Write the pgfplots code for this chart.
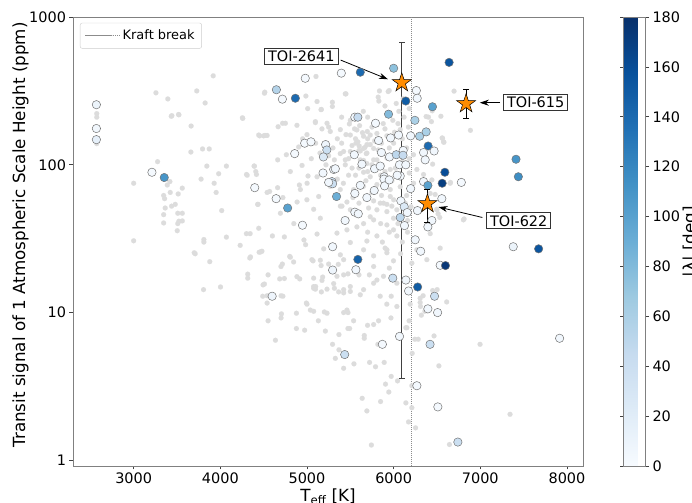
\documentclass[border=0pt]{standalone}
\usepackage{fontspec}
\setmainfont{DejaVu Sans}
\usepackage{pgfplots}
\usepackage{pgfplotstable}
\pgfplotsset{compat=1.18}
\usetikzlibrary{arrows.meta}

\pgfplotsset{/pgf/number format/assume math mode=true, /pgf/number format/1000 sep={}}

% matplotlib Blues
\pgfplotsset{colormap={blues}{rgb255=(247,251,255) rgb255=(222,235,247) rgb255=(198,219,239)
  rgb255=(158,202,225) rgb255=(107,174,214) rgb255=(66,146,198) rgb255=(33,113,181)
  rgb255=(8,81,156) rgb255=(8,48,107)}}

\definecolor{starorange}{RGB}{255,140,0}
\definecolor{bggray}{RGB}{220,220,220}

% filled five-pointed star
\pgfdeclareplotmark{fstar}{%
  \pgfpathmoveto{\pgfpointpolar{90}{\pgfplotmarksize}}%
  \pgfpathlineto{\pgfpointpolar{126}{0.382\pgfplotmarksize}}%
  \pgfpathlineto{\pgfpointpolar{162}{\pgfplotmarksize}}%
  \pgfpathlineto{\pgfpointpolar{198}{0.382\pgfplotmarksize}}%
  \pgfpathlineto{\pgfpointpolar{234}{\pgfplotmarksize}}%
  \pgfpathlineto{\pgfpointpolar{270}{0.382\pgfplotmarksize}}%
  \pgfpathlineto{\pgfpointpolar{306}{\pgfplotmarksize}}%
  \pgfpathlineto{\pgfpointpolar{342}{0.382\pgfplotmarksize}}%
  \pgfpathlineto{\pgfpointpolar{18}{\pgfplotmarksize}}%
  \pgfpathlineto{\pgfpointpolar{54}{0.382\pgfplotmarksize}}%
  \pgfpathclose
  \pgfusepathqfillstroke}

% planets without a measured obliquity
\pgfplotstableread{
T h
3918 400
3257 307
3394 279
3728 316
3825 262
3434 213
3522 218
4255 208
3663 183
4443 159
2574 222
2574 210
2574 139
3660 122
3795 128
3872 128
3276 105
3844 98
4070 98
4393 98
4409 90
4310 85
3981 87
3778 80
3418 77
3000 75
3388 73
3561 69.5
3929 75
3952 65
3346 62
3357 59
3422 65
3514 63.5
3480 54
3438 52.5
3364 51
4435 54
4016 49
3509 47
3561 47
3346 46
3522 41.5
3561 41.7
3509 40
3346 40.4
3503 35.8
4443 37.2
3000 30.6
3810 31.2
4070 32.4
4301 34.2
4344 34.2
3810 30
4229 28.5
3699 25.4
3710 25
3878 22.1
4340 23.4
4448 25.6
4480 26
4316 18.2
4316 17.1
3806 14.3
4002 14.9
4493 15.4
4489 12.9
4348 23.8
4463 25.7
4800 24
4846 22
4716 21.3
4551 18
4685 16.9
4739 17
4509 15.6
4916 16.9
5077 17.1
5181 17.4
5173 16.5
5070 22.4
5154 22.6
5163 20.8
5250 21.3
5277 19.2
5361 21.2
5423 18
5473 18.3
4993 11.6
5000 11.4
5077 10.2
5200 10.1
5423 10
5473 10
5500 13.9
5077 15
5100 15
5097 14.4
5166 13.8
5231 14.4
5316 14.6
5365 13.8
5423 14.3
4878 9.9
4705 9.8
4701 9.2
4551 8.8
5131 8.8
4973 7.6
4878 7.8
5212 7.5
5369 7.1
5473 7.8
4636 6.5
5295 6.1
5327 4.9
5423 4.2
4540 11.6
4540 13
4701 13
5492 7.8
5538 8.8
5699 8.2
5769 8.3
5826 8.8
5969 9.2
6141 7.9
6179 8.8
6245 6.6
6283 6.6
5661 7
5661 6.7
5369 5.6
5542 4.5
5722 4.6
5791 4.3
5891 4.6
5818 6.1
5972 3.7
5906 3.28
6045 3.45
5944 2.9
6214 5.3
5637 2.63
5691 2.16
5849 2.5
6141 2.45
6210 2.27
6172 1.82
6253 1.66
5743 1.27
6997 6.1
7343 2.05
6644 1.28
6210 3.2
6522 4.36
6466 6.95
6612 11.8
6306 12.5
6306 11.7
6153 7.9
6191 11.4
5972 12.9
5921 11.4
6450 14.1
6502 14.3
6340 13
6310 11
6360 10.2
6320 9.6
6697 315
6886 171
6564 151
6580 142
6450 101
6656 76
6813 43
6532 44
6513 46.6
6479 63
6497 50
6375 212
6436 196
6445 232
6545 213
6402 210
6576 143
6560 152
5104 396
4513 310
4259 206
4751 191
5008 240
5162 236
5097 196
5442 302
5829 270
5937 313
4500 157
4454 157
4390 98
4302 86
4417 86
4912 73
4569 66
4431 54
5173 175
5269 168
5385 173
5549 175
5607 184
5696 168
5807 163
5922 157
6010 166
6076 173
5587 143
5668 131
5730 137
5822 126
5684 119
5615 108
5691 102
5807 108
5871 99
5922 111
5730 83
5653 89
5442 100
5346 93
5219 100
5116 83
5012 84
4943 99
4808 90
4762 117
4662 108
4904 132
5423 123
5538 68
5653 71.5
5807 73.5
5961 68
6076 71
5384 68
5269 71.5
5135 61
4999 58
4924 68
4722 60
5461 56
5769 57
5922 54
4509 305
5450 302
4987 292
5116 268
5293 265
5293 248
5166 237
5822 287
5836 316
5949 318
4719 191
4516 158
4540 158
4884 185
5097 193
5231 191
5489 189
5575 172
5500 159
5653 156
5730 159
4661 70
5001 75
4540 65
4693 47
4886 56
5077 50
4848 40
5154 43.5
4601 33
4739 32.5
4965 31
4984 28.8
5116 34
5193 27
5385 24.6
5057 22.8
4808 23.7
4700 20.5
4884 17.5
4722 12.9
5077 14.6
5308 15.7
5423 13.6
5615 13.2
5807 16.6
5769 20.5
5922 25.4
5902 27.3
5998 22.4
5807 33
5691 30.5
5998 36.3
5922 39.2
5769 42.4
5653 40
5461 36.3
5346 34.5
5404 52.5
5500 49.6
5711 51
5807 49.6
5922 48.2
5979 52.5
5883 55
5998 43.5
5845 12.9
6037 11
5461 10.4
5039 10.4
5231 9.9
5316 108
5500 123
5691 120
5769 108
5961 93
6229 117
6268 93
6345 86
6441 79
6652 75
6805 42.4
6422 64
6499 49.6
6422 34.2
6268 26.6
6210 21.6
6383 22.8
6537 27.3
6037 33
5922 26.6
5769 24.2
5653 26.6
5500 29.8
5423 22.8
5883 17.6
6037 15.8
5769 15.8
5653 14.3
5500 15
5346 17.6
6134 55
6037 49.6
5961 61
5845 55
5730 44.5
5576 38
5461 42.4
5385 52.5
5350 150
5400 140
5450 160
5520 135
5560 150
5600 125
5640 165
5700 150
5750 180
5780 145
5860 140
5900 175
5950 130
6000 140
6050 190
6100 150
5480 110
5520 95
5560 85
5600 95
5700 90
5750 100
5850 85
5900 90
5980 78
6020 95
6100 105
6150 130
6180 88
5250 115
5300 130
5150 120
5100 140
5050 110
5000 160
4950 150
5350 80
5420 75
5480 85
5750 65
5860 62
6000 58
6150 62
6200 52
4667 181
3441 215
3518 219
5565 140
5603 134
5653 129
5692 137
5769 129
5615 124
5384 119
5442 108
5653 107
5880 190
5990 200
6060 230
6120 210
6170 180
6110 280
6180 240
5700 210
5650 230
5500 200
5400 210
5250 180
5900 250
6030 260
5850 40
5950 35
6050 40
6100 30
6160 35
5870 30
5700 35
5600 55
5680 78
5530 60
6180 110
6230 75
6160 42
6080 25
5950 20
5720 18
5600 18
}\bgdata

% planets with a measured projected obliquity |lambda|
\pgfplotstableread{
T h lam
2570 255 10
2570 176 5
2570 148 15
3211 89 3
3353 82 110
4397 70 3
4598 12.9 8
5296 19.4 8
5435 5.2 40
4647 322 55
4716 278 3
4866 282 140
4980 385 3
5396 417 3
5615 423 140
6000 450 75
6140 270 150
5552 210 5
5587 210 45
5941 220 80
6262 318 3
6272 282 5
5791 191 3
6245 200 60
6300 156 60
6375 167 60
6196 157 5
6057 159 5
5965 152 5
5826 146 5
4973 140 3
5046 143 3
5215 137 8
5229 126 40
4858 119 3
5189 113 25
5546 117 5
5634 101 5
5859 121 5
5952 113 5
6030 117 50
6110 125 5
6108 116 45
6067 100 5
6140 100 5
5308 93 5
5185 88 5
5327 94 5
5288 77 35
5780 94 5
5845 98 5
5891 83 5
6076 84 5
6640 493 155
6448 247 100
6398 134 140
6345 121 5
6467 124 5
6364 108 5
7412 109 110
7439 83 115
6591 89 160
6560 75 170
6781 76 3
6345 77 5
6395 72.5 100
6556 59 5
6441 42 5
6395 38 5
6312 26 5
7380 27.9 10
7673 27 155
6537 20.9 3
6598 20.8 175
6277 14.9 150
6472 12.9 40
6395 10.6 5
6507 10 5
6420 6.1 40
7915 6.7 5
6268 3.2 3
6510 2.3 3
6741 1.33 40
6068 6.9 5
5870 6.1 3
4644 59 3
4777 51 100
4948 39 3
5296 74.4 40
5250 76 5
5341 61 90
5552 64 5
5615 72.6 5
5691 60 5
5776 67 5
5888 80 5
5895 72 5
5949 79 5
6041 85 5
6083 57 5
6122 52 25
6157 47.5 5
6076 44 50
6125 38.8 5
6196 69 5
6275 49 5
6249 31.1 5
5296 27.9 5
5587 22.9 145
5564 19.5 5
5440 42 5
5552 47.8 5
5592 46.6 5
5990 17.1 40
6141 16.6 5
6172 14 5
}\lamdata

\begin{document}
\begin{tikzpicture}
\begin{axis}[
  name=ax,
  scale only axis,
  width=510bp, height=449bp,
  xmin=2300, xmax=8185,
  ymode=log, ymin=0.916, ymax=1000,
  xtick={3000,4000,5000,6000,7000,8000},
  ytick={1,10,100,1000},
  yticklabels={1,10,100,1000},
  minor tick length=0pt,
  tick pos=left,
  tick align=outside,
  major tick length=3.5bp,
  tick style={black!75, line width=0.6bp},
  axis line style={black!50, line width=0.7bp},
  ticklabel style={font=\fontsize{14.5}{17}\selectfont},
  xlabel={T\textsubscript{eff} [K]},
  ylabel={Transit signal of 1 Atmospheric Scale Height (ppm)},
  every axis x label/.style={at={(axis description cs:0.5,0)}, anchor=base, yshift=-35.5bp,
    font=\fontsize{16.8}{20}\selectfont},
  every axis y label/.style={at={(axis description cs:-0.0941,0.5145)}, anchor=base, rotate=90,
    font=\fontsize{16.8}{20}\selectfont},
  colormap name=blues,
  point meta min=0, point meta max=180,
  colorbar,
  colorbar style={
    at={(parent axis.north east)}, anchor=north west, xshift=32bp,
    scale only axis, width=22bp, height=449bp,
    ytick={0,20,...,180},
    tick align=outside, major tick length=3.5bp,
    tick style={black!75, line width=0.6bp},
    axis line style={black!50, line width=0.7bp},
    yticklabel style={font=\fontsize{14.5}{17}\selectfont},
    ylabel={|λ| [deg]},
    every axis y label/.style={at={(axis description cs:3.27,0.5)}, anchor=base, rotate=90,
      font=\fontsize{16.8}{20}\selectfont},
  },
  legend style={at={(axis description cs:0.0137,0.987)}, anchor=north west,
    draw=black!20, rounded corners=2bp, fill=white, inner xsep=5bp, inner ysep=5bp,
    font=\fontsize{13}{15}\selectfont},
  legend cell align=left,
]
% background sample
\addplot[forget plot, only marks, mark=*, mark size=2.5bp,
  mark options={draw=bggray, fill=bggray, line width=0.1bp}] table[x=T, y=h] {\bgdata};
% obliquity sample
\addplot[forget plot, scatter, only marks, mark=*, mark size=4.2bp,
  scatter/use mapped color={draw=black!55, fill=mapped color, line width=0.5bp},
  point meta=explicit] table[x=T, y=h, meta=lam] {\lamdata};
% Kraft break
\addplot[black!45, line width=0.5bp, dash pattern=on 1bp off 1bp,
  legend image code/.code={\draw[black!45, line width=0.5bp, dash pattern=on 1bp off 1bp]
    (1bp,0bp) -- (27bp,0bp); \path (0bp,0bp) -- (35bp,0bp);}]
  coordinates {(6200,0.916) (6200,1000)};
\addlegendentry{Kraft break}
% error bars
\addplot[forget plot, black!75, line width=1.3bp, mark=-, mark size=3bp,
  mark options={solid, line width=1bp}] coordinates {(6094,3.6) (6094,670)};
\addplot[forget plot, black, line width=0.8bp, mark=-, mark size=3bp,
  mark options={solid, line width=0.8bp}] coordinates {(6836,205) (6836,322)};
\addplot[forget plot, black, line width=0.8bp, mark=-, mark size=3bp,
  mark options={solid, line width=0.8bp}] coordinates {(6390,40.5) (6390,67.8)};
% targets
\addplot[forget plot, only marks, mark=fstar, mark size=10bp,
  mark options={fill=starorange, draw=black, line width=0.5bp}]
  coordinates {(6094,359) (6836,259) (6390,54.5)};

\draw[black, line width=0.8bp, -{Stealth[length=9bp, width=6bp]}]
  (axis cs:5389,511) -- (axis cs:5934,379);
\draw[black, line width=0.8bp, -{Stealth[length=9bp, width=6bp]}]
  (axis cs:7228,263) -- (axis cs:6994,263);
\draw[black, line width=0.8bp, -{Stealth[length=9bp, width=6bp]}]
  (axis cs:7024,44) -- (axis cs:6517,51.8);
\tikzset{toi/.style={draw=black!80, fill=white, line width=0.7bp, inner xsep=3.5bp, inner ysep=2.5bp,
  font=\fontsize{14.5}{17}\selectfont}}
\node[toi] at (axis cs:4935,543) {TOI-2641};
\node[toi] at (axis cs:7639,263) {TOI-615};
\node[toi] at (axis cs:7443,41.8) {TOI-622};
\end{axis}
\pgfresetboundingbox
\path[use as bounding box] ([shift={(-73bp,-37bp)}]ax.south west)
  rectangle ([shift={(619bp,466bp)}]ax.south west);
\end{tikzpicture}
\end{document}
